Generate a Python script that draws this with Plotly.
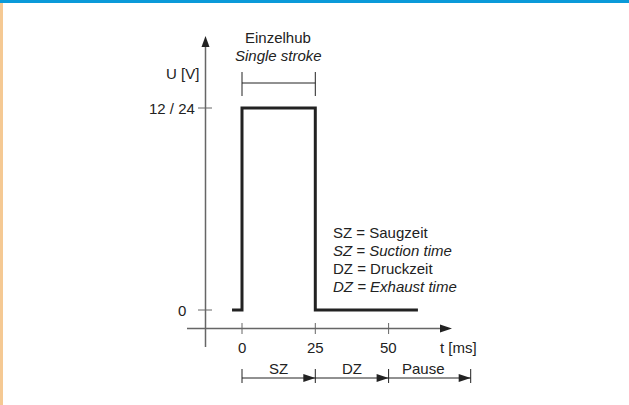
import plotly.graph_objects as go

# ---------------- data ----------------
signal_t = [-3.4, 0, 0, 25, 25, 60]
signal_u = [0, 0, 12, 12, 0, 0]
x_ticks = [0, 25, 50]
x_tick_labels = ["0", "25", "50"]
y_ticks = [0, 12]
y_tick_labels = ["0", "12 / 24"]
phase_bounds = [0, 25, 50, 78]
phase_labels = ["SZ", "DZ", "Pause"]
phase_label_pos = [12.5, 37.5, 62]
stroke_span = [0, 25]
stroke_labels = ["Einzelhub", "<i>Single stroke</i>"]
legend_lines = ["SZ = Saugzeit", "<i>SZ = Suction time</i>",
                "DZ = Druckzeit", "<i>DZ = Exhaust time</i>"]

# ---------------- geometry helpers (pixel <-> data) ----------------
W, H = 629, 405
X0_PX, KX = 242.0, 73.3 / 25.0
Y0_PY, KY = 310.0, 202.0 / 12.0


def tx(px):
    return (px - X0_PX) / KX


def uy(py):
    return (Y0_PY - py) / KY


DARK = "#222222"
AXC = "#666666"
FONT = dict(family="Liberation Sans, Arial, sans-serif", size=15, color=DARK)

fig = go.Figure()
fig.add_trace(go.Scatter(x=signal_t, y=signal_u, mode="lines",
                         line=dict(color=DARK, width=3), hoverinfo="skip",
                         showlegend=False))

shapes = []
ann = []


def line(x0, y0, x1, y1, color=DARK, width=1):
    shapes.append(dict(type="line", xref="x", yref="y", x0=x0, y0=y0, x1=x1, y1=y1,
                       line=dict(color=color, width=width), layer="above"))


def arrow_right(t, u, L=12, h=4):
    xb = t - L / KX
    shapes.append(dict(type="path", xref="x", yref="y",
                       path=f"M{t},{u} L{xb},{u + h / KY} L{xb},{u - h / KY} Z",
                       fillcolor=DARK, line=dict(width=0), layer="above"))


def arrow_up(t, u, L=11, h=4):
    yb = u - L / KY
    shapes.append(dict(type="path", xref="x", yref="y",
                       path=f"M{t},{u} L{t - h / KX},{yb} L{t + h / KX},{yb} Z",
                       fillcolor=DARK, line=dict(width=0), layer="above"))


def text(x, y, s, xanchor="center", yanchor="middle"):
    ann.append(dict(x=x, y=y, xref="x", yref="y", text=s, showarrow=False,
                    xanchor=xanchor, yanchor=yanchor, font=FONT))


# y axis
YAX_T = tx(205.5)
line(YAX_T, uy(347), YAX_T, uy(46), AXC, 1.5)
arrow_up(YAX_T, uy(36))
text(tx(182), uy(73), "U [V]")
for v, lab in zip(y_ticks, y_tick_labels):
    line(tx(198), v, tx(212), v, AXC, 1)
    text(tx(188 if v == 0 else 197), v, lab, xanchor="right")

# x axis
XAX_U = uy(328.5)
line(tx(187), XAX_U, tx(442), XAX_U, AXC, 1.5)
arrow_right(tx(452), XAX_U)
text(tx(458), uy(347), "t [ms]")
for v, lab in zip(x_ticks, x_tick_labels):
    line(v, uy(323), v, uy(334), AXC, 1)
    text(v, uy(347), lab)

# single stroke bracket
for v in stroke_span:
    line(v, uy(72), v, uy(96), DARK, 1)
line(stroke_span[0], uy(83), stroke_span[1], uy(83), DARK, 1)
text(tx(278), uy(37), stroke_labels[0])
text(tx(278), uy(55), stroke_labels[1])

# phases
PH_U = uy(378)
line(phase_bounds[0], PH_U, phase_bounds[-1], PH_U, DARK, 1)
for b in phase_bounds:
    line(b, uy(369), b, uy(383), DARK, 1)
for b in phase_bounds[1:]:
    arrow_right(b, PH_U)
for p, lab in zip(phase_label_pos, phase_labels):
    text(p, uy(368), lab)

# legend text
for i, s in enumerate(legend_lines):
    text(tx(331), uy(232 + i * 18.3), s, xanchor="left")

# frame decoration
shapes.append(dict(type="rect", xref="paper", yref="paper", x0=0, x1=1,
                   y0=1 - 3 / H, y1=1, fillcolor="#0a9ad9", line=dict(width=0)))
shapes.append(dict(type="rect", xref="paper", yref="paper", x0=0, x1=3 / W,
                   y0=0, y1=1 - 3 / H, fillcolor="#f5c993", line=dict(width=0)))

fig.update_layout(
    width=W, height=H, margin=dict(l=0, r=0, t=0, b=0),
    paper_bgcolor="white", plot_bgcolor="white",
    xaxis=dict(range=[tx(0), tx(W)], visible=False, fixedrange=True),
    yaxis=dict(range=[uy(H), uy(0)], visible=False, fixedrange=True),
    shapes=shapes, annotations=ann, showlegend=False,
)

fig.write_html("out.html", config={"displayModeBar": False},
               post_script="document.body.style.margin='0';document.body.style.overflow='hidden';")
